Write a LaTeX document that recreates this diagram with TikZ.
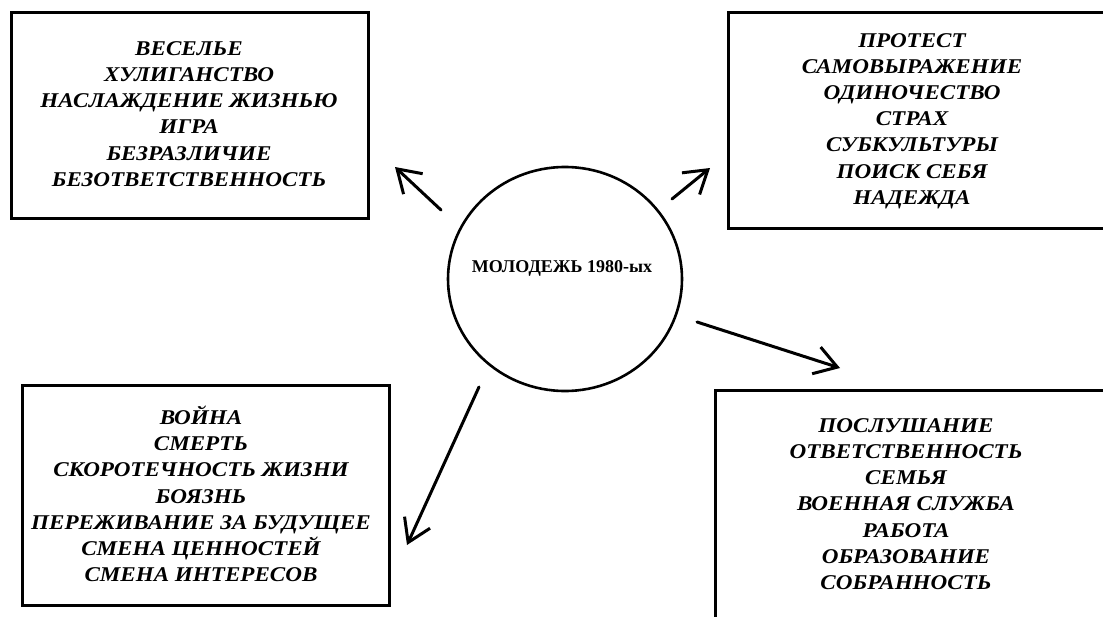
\documentclass[tikz,border=0pt]{standalone}
\usepackage{fontspec}
\setmainfont{Liberation Serif}
\newfontfamily\widefont[FakeStretch=1.1]{Liberation Serif}
\usetikzlibrary{arrows.meta,shapes.geometric}
\begin{document}
\begin{tikzpicture}[x=1pt,y=-1pt,
  frame/.style={draw=black,line width=3pt,rectangle,inner sep=0pt},
  words/.style={align=center,inner sep=0pt,font=\widefont\fontsize{21}{26.2}\selectfont\bfseries\itshape},
  hub/.style={draw=black,line width=2.6pt,ellipse,inner sep=0pt,minimum width=234pt,minimum height=224pt},
  hubtext/.style={inner sep=0pt,font=\fontsize{18}{20}\selectfont\bfseries},
  link/.style={line width=3pt,line cap=round,-{Straight Barb[length=22pt,width=28pt,line width=3pt]}}
]
\useasboundingbox (0,0) rectangle (1103,616);
\clip (0,0) rectangle (1103,616);
\fill[white] (0,0) rectangle (1103,616);

% frames
\node[frame,minimum width=356.5pt,minimum height=206.5pt] (f1) at (189.75,115.25) {};
\node[frame,minimum width=400pt,minimum height=216pt] (f2) at (928.5,120) {};
\node[frame,minimum width=367pt,minimum height=220pt] (f3) at (205.5,495) {};
\node[frame,minimum width=400pt,minimum height=250pt] (f4) at (915,515) {};

% texts
\node[words] (t1) at (189,114) {ВЕСЕЛЬЕ\\ХУЛИГАНСТВО\\НАСЛАЖДЕНИЕ ЖИЗНЬЮ\\ИГРА\\БЕЗРАЗЛИЧИЕ\\БЕЗОТВЕТСТВЕННОСТЬ};
\node[words] (t2) at (912,121) {ПРОТЕСТ\\САМОВЫРАЖЕНИЕ\\ОДИНОЧЕСТВО\\СТРАХ\\СУБКУЛЬТУРЫ\\ПОИСК СЕБЯ\\НАДЕЖДА};
\node[words] (t3) at (201,494) {ВОЙНА\\СМЕРТЬ\\СКОРОТЕЧНОСТЬ ЖИЗНИ\\БОЯЗНЬ\\ПЕРЕЖИВАНИЕ ЗА БУДУЩЕЕ\\СМЕНА ЦЕННОСТЕЙ\\СМЕНА ИНТЕРЕСОВ};
\node[words] (t4) at (906,504) {ПОСЛУШАНИЕ\\ОТВЕТСТВЕННОСТЬ\\СЕМЬЯ\\ВОЕННАЯ СЛУЖБА\\РАБОТА\\ОБРАЗОВАНИЕ\\СОБРАННОСТЬ};

% hub
\node[hub] (c) at (565,279) {};
\node[hubtext] (ct) at (562,268) {МОЛОДЕЖЬ 1980-ых};

% connector ends
\coordinate (s1) at (441,210);
\coordinate (e1) at (395,167);
\coordinate (s2) at (672,199);
\coordinate (e2) at (710,168);
\coordinate (s3) at (697,322);
\coordinate (e3) at (840,368);
\coordinate (s4) at (479,387);
\coordinate (e4) at (407,545);

\draw[link] (s1) -- (e1);
\draw[link] (s2) -- (e2);
\draw[link] (s3) -- (e3);
\draw[link] (s4) -- (e4);
\end{tikzpicture}
\end{document}
